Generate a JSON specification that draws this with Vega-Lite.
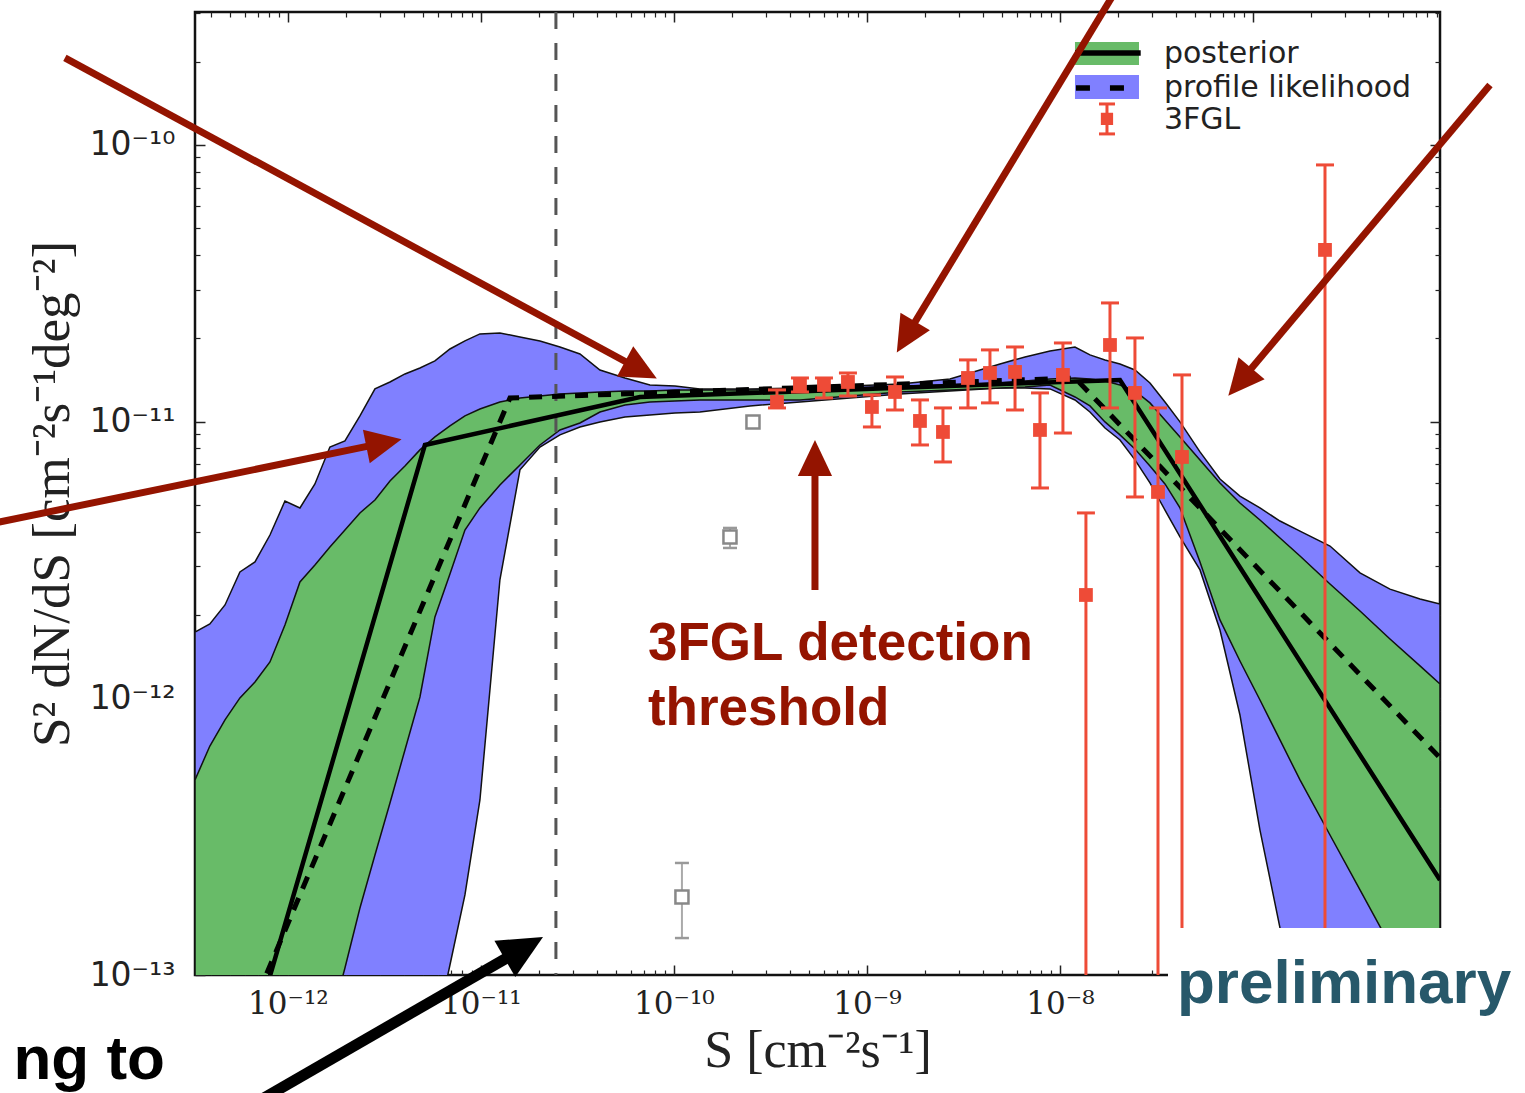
{
"$schema":"https://vega.github.io/schema/vega-lite/v6.json",
"width":1245,"height":963,
"autosize":{"type":"none"},
"padding":{"left":195,"top":12,"right":85,"bottom":118},
"background":"white",
"config":{"view":{"stroke":"#111","strokeWidth":2.5},"axis":{"grid":false,"domain":false}},
"resolve":{"axis":{"x":"independent","y":"independent"}},
"datasets":{
"bands":[
{"S":3.30e-13,"pl_hi":1.736e-12,"pl_lo":1e-15,"post_hi":5.07e-13,"post_lo":1e-15},
{"S":3.94e-13,"pl_hi":1.856e-12,"pl_lo":1e-15,"post_hi":6.72e-13,"post_lo":1e-15},
{"S":4.72e-13,"pl_hi":2.174e-12,"pl_lo":1e-15,"post_hi":8.35e-13,"post_lo":1e-15},
{"S":5.64e-13,"pl_hi":2.86e-12,"pl_lo":1e-15,"post_hi":1.003e-12,"post_lo":1e-15},
{"S":6.75e-13,"pl_hi":3.11e-12,"pl_lo":1e-15,"post_hi":1.145e-12,"post_lo":1e-15},
{"S":8.07e-13,"pl_hi":3.89e-12,"pl_lo":1e-15,"post_hi":1.353e-12,"post_lo":1e-15},
{"S":9.65e-13,"pl_hi":5.16e-12,"pl_lo":1e-15,"post_hi":1.841e-12,"post_lo":1e-15},
{"S":1.154e-12,"pl_hi":4.87e-12,"pl_lo":1e-15,"post_hi":2.632e-12,"post_lo":1e-15},
{"S":1.38e-12,"pl_hi":5.95e-12,"pl_lo":1e-15,"post_hi":3.032e-12,"post_lo":4.0e-14},
{"S":1.65e-12,"pl_hi":8.09e-12,"pl_lo":1e-15,"post_hi":3.522e-12,"post_lo":6.6e-14},
{"S":1.974e-12,"pl_hi":8.51e-12,"pl_lo":1e-15,"post_hi":4.056e-12,"post_lo":1.06e-13},
{"S":2.361e-12,"pl_hi":1.048e-11,"pl_lo":1e-15,"post_hi":4.675e-12,"post_lo":1.747e-13},
{"S":2.824e-12,"pl_hi":1.312e-11,"pl_lo":1e-15,"post_hi":5.208e-12,"post_lo":2.715e-13},
{"S":3.378e-12,"pl_hi":1.39e-11,"pl_lo":1e-15,"post_hi":6.10e-12,"post_lo":4.184e-13},
{"S":4.039e-12,"pl_hi":1.486e-11,"pl_lo":1e-15,"post_hi":6.912e-12,"post_lo":6.505e-13},
{"S":4.83e-12,"pl_hi":1.562e-11,"pl_lo":3.25e-14,"post_hi":7.898e-12,"post_lo":1.011e-12},
{"S":5.776e-12,"pl_hi":1.656e-11,"pl_lo":6.07e-14,"post_hi":8.799e-12,"post_lo":1.967e-12},
{"S":6.909e-12,"pl_hi":1.829e-11,"pl_lo":1.087e-13,"post_hi":9.641e-12,"post_lo":2.814e-12},
{"S":8.262e-12,"pl_hi":1.956e-11,"pl_lo":1.946e-13,"post_hi":1.048e-11,"post_lo":4.056e-12},
{"S":9.88e-12,"pl_hi":2.073e-11,"pl_lo":4.29e-13,"post_hi":1.11e-11,"post_lo":4.874e-12},
{"S":1.254e-11,"pl_hi":2.09e-11,"pl_lo":2.68e-12,"post_hi":1.177e-11,"post_lo":5.90e-12},
{"S":1.593e-11,"pl_hi":2.022e-11,"pl_lo":6.69e-12,"post_hi":1.217e-11,"post_lo":6.97e-12},
{"S":2.022e-11,"pl_hi":1.956e-11,"pl_lo":8.09e-12,"post_hi":1.237e-11,"post_lo":8.231e-12},
{"S":2.567e-11,"pl_hi":1.86e-11,"pl_lo":8.95e-12,"post_hi":1.258e-11,"post_lo":9.324e-12},
{"S":3.258e-11,"pl_hi":1.755e-11,"pl_lo":9.56e-12,"post_hi":1.269e-11,"post_lo":9.884e-12},
{"S":4.136e-11,"pl_hi":1.536e-11,"pl_lo":9.97e-12,"post_hi":1.279e-11,"post_lo":1.083e-11},
{"S":5.573e-11,"pl_hi":1.437e-11,"pl_lo":1.039e-11,"post_hi":1.29e-11,"post_lo":1.148e-11},
{"S":7.508e-11,"pl_hi":1.356e-11,"pl_lo":1.057e-11,"post_hi":1.29e-11,"post_lo":1.177e-11},
{"S":1.012e-10,"pl_hi":1.345e-11,"pl_lo":1.074e-11,"post_hi":1.301e-11,"post_lo":1.187e-11},
{"S":1.363e-10,"pl_hi":1.312e-11,"pl_lo":1.083e-11,"post_hi":1.301e-11,"post_lo":1.197e-11},
{"S":2.476e-10,"pl_hi":1.312e-11,"pl_lo":1.139e-11,"post_hi":1.301e-11,"post_lo":1.197e-11},
{"S":4.496e-10,"pl_hi":1.323e-11,"pl_lo":1.177e-11,"post_hi":1.312e-11,"post_lo":1.197e-11},
{"S":8.165e-10,"pl_hi":1.345e-11,"pl_lo":1.217e-11,"post_hi":1.323e-11,"post_lo":1.237e-11},
{"S":1.483e-9,"pl_hi":1.367e-11,"pl_lo":1.258e-11,"post_hi":1.345e-11,"post_lo":1.279e-11},
{"S":2.693e-9,"pl_hi":1.426e-11,"pl_lo":1.29e-11,"post_hi":1.356e-11,"post_lo":1.301e-11},
{"S":4.89e-9,"pl_hi":1.615e-11,"pl_lo":1.323e-11,"post_hi":1.379e-11,"post_lo":1.323e-11},
{"S":6.59e-9,"pl_hi":1.712e-11,"pl_lo":1.323e-11,"post_hi":1.402e-11,"post_lo":1.334e-11},
{"S":8.88e-9,"pl_hi":1.799e-11,"pl_lo":1.312e-11,"post_hi":1.426e-11,"post_lo":1.356e-11},
{"S":1.196e-8,"pl_hi":1.86e-11,"pl_lo":1.197e-11,"post_hi":1.437e-11,"post_lo":1.227e-11},
{"S":1.43e-8,"pl_hi":1.741e-11,"pl_lo":1.083e-11,"post_hi":1.426e-11,"post_lo":1.139e-11},
{"S":1.711e-8,"pl_hi":1.67e-11,"pl_lo":9.48e-12,"post_hi":1.402e-11,"post_lo":9.97e-12},
{"S":2.046e-8,"pl_hi":1.615e-11,"pl_lo":8.58e-12,"post_hi":1.356e-11,"post_lo":8.95e-12},
{"S":2.446e-8,"pl_hi":1.536e-11,"pl_lo":7.27e-12,"post_hi":1.29e-11,"post_lo":7.962e-12},
{"S":2.926e-8,"pl_hi":1.379e-11,"pl_lo":6.00e-12,"post_hi":1.168e-11,"post_lo":6.912e-12},
{"S":3.50e-8,"pl_hi":1.177e-11,"pl_lo":4.79e-12,"post_hi":1.013e-11,"post_lo":5.95e-12},
{"S":4.186e-8,"pl_hi":9.97e-12,"pl_lo":3.83e-12,"post_hi":8.80e-12,"post_lo":4.874e-12},
{"S":5.314e-8,"pl_hi":7.77e-12,"pl_lo":2.91e-12,"post_hi":7.265e-12,"post_lo":3.109e-12},
{"S":6.745e-8,"pl_hi":6.20e-12,"pl_lo":1.765e-12,"post_hi":6.00e-12,"post_lo":1.919e-12},
{"S":8.56e-8,"pl_hi":5.38e-12,"pl_lo":8.70e-13,"post_hi":5.08e-12,"post_lo":1.364e-12},
{"S":1.087e-7,"pl_hi":4.874e-12,"pl_lo":3.34e-13,"post_hi":4.41e-12,"post_lo":9.86e-13},
{"S":1.38e-7,"pl_hi":4.37e-12,"pl_lo":1.48e-13,"post_hi":3.796e-12,"post_lo":7.07e-13},
{"S":1.752e-7,"pl_hi":4.02e-12,"pl_lo":6.88e-14,"post_hi":3.268e-12,"post_lo":5.07e-13},
{"S":2.506e-7,"pl_hi":3.55e-12,"pl_lo":2.33e-14,"post_hi":2.589e-12,"post_lo":3.206e-13},
{"S":3.585e-7,"pl_hi":2.84e-12,"pl_lo":7.9e-15,"post_hi":2.068e-12,"post_lo":2.029e-13},
{"S":5.126e-7,"pl_hi":2.48e-12,"pl_lo":2.91e-15,"post_hi":1.638e-12,"post_lo":1.284e-13},
{"S":7.334e-7,"pl_hi":2.285e-12,"pl_lo":1.27e-15,"post_hi":1.309e-12,"post_lo":8.12e-14},
{"S":9.31e-7,"pl_hi":2.19e-12,"pl_lo":7.7e-16,"post_hi":1.127e-12,"post_lo":6.07e-14}
],
"posteriorLine":[
{"S":6.06e-13,"value":5e-14},{"S":5.126e-12,"value":8.23e-12},{"S":6.665e-11,"value":1.227e-11},{"S":2.046e-8,"value":1.414e-11},{"S":9.31e-7,"value":2.204e-13}
],
"profileLine":[
{"S":5.066e-13,"value":5e-14},{"S":1.414e-11,"value":1.217e-11},{"S":1.196e-8,"value":1.437e-11},{"S":9.31e-7,"value":6.09e-13}
],
"threshold":[{"S":2.446e-11}],
"fgl":[
{"S":3.418e-10,"value":1.177e-11,"lo":1.12e-11,"hi":1.301e-11},
{"S":4.496e-10,"value":1.356e-11,"lo":1.279e-11,"hi":1.437e-11},
{"S":5.987e-10,"value":1.356e-11,"lo":1.217e-11,"hi":1.437e-11},
{"S":7.97e-10,"value":1.39e-11,"lo":1.237e-11,"hi":1.498e-11},
{"S":1.061e-9,"value":1.129e-11,"lo":9.56e-12,"hi":1.248e-11},
{"S":1.397e-9,"value":1.279e-11,"lo":1.101e-11,"hi":1.449e-11},
{"S":1.882e-9,"value":1.005e-11,"lo":8.23e-12,"hi":1.197e-11},
{"S":2.476e-9,"value":9.17e-12,"lo":7.145e-12,"hi":1.12e-11},
{"S":3.337e-9,"value":1.437e-11,"lo":1.12e-11,"hi":1.67e-11},
{"S":4.338e-9,"value":1.498e-11,"lo":1.168e-11,"hi":1.815e-11},
{"S":5.85e-9,"value":1.511e-11,"lo":1.101e-11,"hi":1.86e-11},
{"S":7.877e-9,"value":9.324e-12,"lo":5.754e-12,"hi":1.269e-11},
{"S":1.036e-8,"value":1.474e-11,"lo":9.09e-12,"hi":1.923e-11},
{"S":1.363e-8,"value":2.362e-12,"lo":1e-15,"hi":4.675e-12},
{"S":1.816e-8,"value":1.891e-11,"lo":1.12e-11,"hi":2.683e-11},
{"S":2.446e-8,"value":1.269e-11,"lo":5.339e-12,"hi":2.005e-11},
{"S":3.22e-8,"value":5.567e-12,"lo":1e-15,"hi":1.12e-11},
{"S":4.287e-8,"value":7.448e-12,"lo":1e-15,"hi":1.474e-11},
{"S":2.361e-7,"value":4.171e-11,"lo":1e-15,"hi":8.46e-11}
],
"grey":[
{"S":2.567e-10,"value":9.97e-12,"lo":null,"hi":null},
{"S":1.951e-10,"value":3.827e-12,"lo":3.493e-12,"hi":4.126e-12},
{"S":1.1e-10,"value":1.914e-13,"lo":1.36e-13,"hi":2.54e-13}
],
"legendPatches":[
{"x":1.196e-8,"x2":2.567e-8,"y":1.944e-10,"y2":2.354e-10,"series":"posterior"},
{"x":1.196e-8,"x2":2.567e-8,"y":1.465e-10,"y2":1.789e-10,"series":"profile likelihood"}
],
"legendLines":[
{"x":1.196e-8,"x2":2.62e-8,"y":2.149e-10,"series":"posterior"},
{"x":1.21e-8,"x2":2.172e-8,"y":1.605e-10,"series":"profile likelihood"}
],
"legendFgl":[{"x":1.752e-8,"y":1.241e-10,"lo":1.095e-10,"hi":1.405e-10}],
"legendText":[
{"x":3.458e-8,"y":1.977e-10,"label":"posterior"},
{"x":3.458e-8,"y":1.49e-10,"label":"profile likelihood"},
{"x":3.458e-8,"y":1.141e-10,"label":"3FGL"}
],
"cover":[{"x":3.628e-8,"x2":2.72e-6,"y":1.48e-13,"y2":3.533e-14}],
"prelim":[{"x":4.037e-8,"y":7.92e-14,"label":"preliminary"}],
"callout":[
{"x":7.334e-11,"y":1.375e-12,"label":"3FGL detection"},
{"x":7.334e-11,"y":8.009e-13,"label":"threshold"}
],
"cutText":[{"x":2.305e-13,"y":4.21e-14,"label":"ng to"}],
"redArrows":[
{"x":6.99e-14,"y":2.061e-10,"x2":6.745e-11,"y2":1.536e-11,"angle":118.4},
{"x":1.928e-8,"y":3.568e-10,"x2":1.593e-9,"y2":2.022e-11,"angle":210.7},
{"x":1.69e-6,"y":1.646e-10,"x2":8.56e-8,"y2":1.39e-11,"angle":220.2},
{"x":3.033e-14,"y":4.3e-12,"x2":3.144e-12,"y2":8.37e-12,"angle":78.5},
{"x":5.378e-10,"y":2.462e-12,"x2":5.378e-10,"y2":7.386e-12,"angle":0}
],
"blackArrow":[
{"x":6.909e-13,"y":3.475e-14,"x2":1.67e-11,"y2":1.252e-13,"angle":60.1}
]
},
"layer":[
{"data":{"name":"bands"},
 "mark":{"type":"area","fill":"#8080ff","stroke":"#111","strokeWidth":1.5,"clip":true},
 "encoding":{
  "x":{"field":"S","type":"quantitative","scale":{"type":"log","domain":[3.3e-13,9.31e-7],"nice":false},
   "axis":{"orient":"bottom","values":[1e-12,1e-11,1e-10,1e-9,1e-8,1e-7],
    "labelExpr":"datum.value < 3e-12 ? '10⁻¹²' : datum.value < 3e-11 ? '10⁻¹¹' : datum.value < 3e-10 ? '10⁻¹⁰' : datum.value < 3e-9 ? '10⁻⁹' : datum.value < 3e-8 ? '10⁻⁸' : ''",
    "tickSize":-10,"tickWidth":1.5,"tickColor":"#222","labelFont":"DejaVu Serif","labelFontSize":31,"labelColor":"#222","labelPadding":24,
    "labelOverlap":false,"labelFlush":false,"labelBound":false,
    "title":"S [cm⁻²s⁻¹]","titleFont":"Liberation Serif","titleFontSize":52,"titleFontWeight":"normal","titleColor":"#222","titlePadding":6}},
  "y":{"field":"pl_hi","type":"quantitative","scale":{"type":"log","domain":[1e-13,3.02e-10],"nice":false},
   "axis":{"orient":"left","values":[1e-13,1e-12,1e-11,1e-10],
    "labelExpr":"datum.value < 3e-13 ? '10⁻¹³' : datum.value < 3e-12 ? '10⁻¹²' : datum.value < 3e-11 ? '10⁻¹¹' : '10⁻¹⁰'",
    "tickSize":-10,"tickWidth":1.5,"tickColor":"#222","labelFont":"DejaVu Sans","labelFontSize":33,"labelColor":"#222","labelPadding":30,
    "labelOverlap":false,"labelFlush":false,"labelBound":false,
    "title":"S² dN/dS [cm⁻²s⁻¹deg⁻²]","titleFont":"Liberation Serif","titleFontSize":53,"titleFontWeight":"normal","titleColor":"#222","titlePadding":10}},
  "y2":{"field":"pl_lo"}}},
{"data":{"name":"bands"},
 "mark":{"type":"area","fill":"#68bb68","stroke":"#111","strokeWidth":1.5,"clip":true},
 "encoding":{
  "x":{"field":"S","type":"quantitative","axis":{"orient":"top","values":[1e-12,1e-11,1e-10,1e-9,1e-8,1e-7],"labels":false,"tickSize":-10,"tickWidth":1.5,"tickColor":"#222","title":null}},
  "y":{"field":"post_hi","type":"quantitative","axis":{"orient":"right","values":[1e-13,1e-12,1e-11,1e-10],"labels":false,"tickSize":-10,"tickWidth":1.5,"tickColor":"#222","title":null}},
  "y2":{"field":"post_lo"}}},
{"data":{"name":"threshold"},
 "mark":{"type":"rule","color":"#555","strokeWidth":3,"strokeDash":[17,14]},
 "encoding":{"x":{"field":"S","type":"quantitative","axis":null}}},
{"data":{"name":"posteriorLine"},
 "mark":{"type":"line","color":"#000","strokeWidth":4.5,"clip":true},
 "encoding":{
  "x":{"field":"S","type":"quantitative","axis":{"orient":"bottom","values":[4e-13,5e-13,6e-13,7e-13,8e-13,9e-13,2e-12,3e-12,4e-12,5e-12,6e-12,7e-12,8e-12,9e-12,2e-11,3e-11,4e-11,5e-11,6e-11,7e-11,8e-11,9e-11,2e-10,3e-10,4e-10,5e-10,6e-10,7e-10,8e-10,9e-10,2e-9,3e-9,4e-9,5e-9,6e-9,7e-9,8e-9,9e-9,2e-8,3e-8,4e-8,5e-8,6e-8,7e-8,8e-8,9e-8,2e-7,3e-7,4e-7,5e-7,6e-7,7e-7,8e-7,9e-7],"labels":false,"tickSize":-5,"tickWidth":1.2,"tickColor":"#222","title":null}},
  "y":{"field":"value","type":"quantitative","axis":{"orient":"left","values":[2e-13,3e-13,4e-13,5e-13,6e-13,7e-13,8e-13,9e-13,2e-12,3e-12,4e-12,5e-12,6e-12,7e-12,8e-12,9e-12,2e-11,3e-11,4e-11,5e-11,6e-11,7e-11,8e-11,9e-11,2e-10,3e-10],"labels":false,"tickSize":-5,"tickWidth":1.2,"tickColor":"#222","title":null}}}},
{"data":{"name":"profileLine"},
 "mark":{"type":"line","color":"#000","strokeWidth":5,"strokeDash":[13,10],"clip":true},
 "encoding":{
  "x":{"field":"S","type":"quantitative","axis":{"orient":"top","values":[4e-13,5e-13,6e-13,7e-13,8e-13,9e-13,2e-12,3e-12,4e-12,5e-12,6e-12,7e-12,8e-12,9e-12,2e-11,3e-11,4e-11,5e-11,6e-11,7e-11,8e-11,9e-11,2e-10,3e-10,4e-10,5e-10,6e-10,7e-10,8e-10,9e-10,2e-9,3e-9,4e-9,5e-9,6e-9,7e-9,8e-9,9e-9,2e-8,3e-8,4e-8,5e-8,6e-8,7e-8,8e-8,9e-8,2e-7,3e-7,4e-7,5e-7,6e-7,7e-7,8e-7,9e-7],"labels":false,"tickSize":-5,"tickWidth":1.2,"tickColor":"#222","title":null}},
  "y":{"field":"value","type":"quantitative","axis":{"orient":"right","values":[2e-13,3e-13,4e-13,5e-13,6e-13,7e-13,8e-13,9e-13,2e-12,3e-12,4e-12,5e-12,6e-12,7e-12,8e-12,9e-12,2e-11,3e-11,4e-11,5e-11,6e-11,7e-11,8e-11,9e-11,2e-10,3e-10],"labels":false,"tickSize":-5,"tickWidth":1.2,"tickColor":"#222","title":null}}}},
{"data":{"name":"fgl"},
 "mark":{"type":"rule","color":"#ee4b37","strokeWidth":3,"clip":true},
 "encoding":{"x":{"field":"S","type":"quantitative","axis":null},"y":{"field":"lo","type":"quantitative","axis":null},"y2":{"field":"hi"}}},
{"data":{"name":"fgl"},
 "mark":{"type":"tick","orient":"horizontal","color":"#ee4b37","size":18,"thickness":3,"opacity":1,"clip":true},
 "encoding":{"x":{"field":"S","type":"quantitative","axis":null},"y":{"field":"hi","type":"quantitative","axis":null}}},
{"data":{"name":"fgl"},
 "mark":{"type":"tick","orient":"horizontal","color":"#ee4b37","size":18,"thickness":3,"opacity":1,"clip":true},
 "encoding":{"x":{"field":"S","type":"quantitative","axis":null},"y":{"field":"lo","type":"quantitative","axis":null}}},
{"data":{"name":"fgl"},
 "mark":{"type":"point","shape":"square","filled":true,"size":190,"color":"#ee4b37","opacity":1,"clip":true},
 "encoding":{"x":{"field":"S","type":"quantitative","axis":null},"y":{"field":"value","type":"quantitative","axis":null}}},
{"data":{"name":"grey"},
 "mark":{"type":"rule","color":"#aaa","strokeWidth":2},
 "encoding":{"x":{"field":"S","type":"quantitative","axis":null},"y":{"field":"lo","type":"quantitative","axis":null},"y2":{"field":"hi"}}},
{"data":{"name":"grey"},
 "mark":{"type":"tick","orient":"horizontal","color":"#999","size":14,"thickness":2.5,"opacity":1},
 "encoding":{"x":{"field":"S","type":"quantitative","axis":null},"y":{"field":"hi","type":"quantitative","axis":null}}},
{"data":{"name":"grey"},
 "mark":{"type":"tick","orient":"horizontal","color":"#999","size":14,"thickness":2.5,"opacity":1},
 "encoding":{"x":{"field":"S","type":"quantitative","axis":null},"y":{"field":"lo","type":"quantitative","axis":null}}},
{"data":{"name":"grey"},
 "mark":{"type":"point","shape":"square","filled":false,"size":170,"stroke":"#888","fill":"white","strokeWidth":2.5,"opacity":1},
 "encoding":{"x":{"field":"S","type":"quantitative","axis":null},"y":{"field":"value","type":"quantitative","axis":null}}},
{"data":{"name":"legendPatches"},
 "mark":{"type":"rect","opacity":1},
 "encoding":{"x":{"field":"x","type":"quantitative","axis":null},"x2":{"field":"x2"},"y":{"field":"y","type":"quantitative","axis":null},"y2":{"field":"y2"},
  "fill":{"field":"series","type":"nominal","scale":{"domain":["posterior","profile likelihood"],"range":["#68bb68","#8080ff"]},"legend":null}}},
{"data":{"name":"legendLines"},
 "mark":{"type":"rule","color":"#000","strokeWidth":5.5},
 "encoding":{"x":{"field":"x","type":"quantitative","axis":null},"x2":{"field":"x2"},"y":{"field":"y","type":"quantitative","axis":null},
  "strokeDash":{"field":"series","type":"nominal","scale":{"domain":["posterior","profile likelihood"],"range":[[1,0],[14,20]]},"legend":null}}},
{"data":{"name":"legendFgl"},
 "mark":{"type":"rule","color":"#ee4b37","strokeWidth":3},
 "encoding":{"x":{"field":"x","type":"quantitative","axis":null},"y":{"field":"lo","type":"quantitative","axis":null},"y2":{"field":"hi"}}},
{"data":{"name":"legendFgl"},
 "mark":{"type":"tick","orient":"horizontal","color":"#ee4b37","size":16,"thickness":3,"opacity":1},
 "encoding":{"x":{"field":"x","type":"quantitative","axis":null},"y":{"field":"hi","type":"quantitative","axis":null}}},
{"data":{"name":"legendFgl"},
 "mark":{"type":"tick","orient":"horizontal","color":"#ee4b37","size":16,"thickness":3,"opacity":1},
 "encoding":{"x":{"field":"x","type":"quantitative","axis":null},"y":{"field":"lo","type":"quantitative","axis":null}}},
{"data":{"name":"legendFgl"},
 "mark":{"type":"point","shape":"square","filled":true,"size":150,"color":"#ee4b37","opacity":1},
 "encoding":{"x":{"field":"x","type":"quantitative","axis":null},"y":{"field":"y","type":"quantitative","axis":null}}},
{"data":{"name":"legendText"},
 "mark":{"type":"text","align":"left","baseline":"alphabetic","font":"DejaVu Sans","fontSize":30,"color":"#222"},
 "encoding":{"x":{"field":"x","type":"quantitative","axis":null},"y":{"field":"y","type":"quantitative","axis":null},"text":{"field":"label"}}},
{"data":{"name":"cover"},
 "mark":{"type":"rect","fill":"white","opacity":1,"clip":false},
 "encoding":{"x":{"field":"x","type":"quantitative","axis":null},"x2":{"field":"x2"},"y":{"field":"y","type":"quantitative","axis":null},"y2":{"field":"y2"}}},
{"data":{"name":"prelim"},
 "mark":{"type":"text","align":"left","baseline":"alphabetic","font":"Liberation Sans","fontWeight":"bold","fontSize":62,"color":"#27586a","clip":false},
 "encoding":{"x":{"field":"x","type":"quantitative","axis":null},"y":{"field":"y","type":"quantitative","axis":null},"text":{"field":"label"}}},
{"data":{"name":"callout"},
 "mark":{"type":"text","align":"left","baseline":"alphabetic","font":"Liberation Sans","fontWeight":"bold","fontSize":53,"color":"#941400"},
 "encoding":{"x":{"field":"x","type":"quantitative","axis":null},"y":{"field":"y","type":"quantitative","axis":null},"text":{"field":"label"}}},
{"data":{"name":"cutText"},
 "mark":{"type":"text","align":"right","baseline":"alphabetic","font":"Liberation Sans","fontWeight":"bold","fontSize":62,"color":"#000","clip":false},
 "encoding":{"x":{"field":"x","type":"quantitative","axis":null},"y":{"field":"y","type":"quantitative","axis":null},"text":{"field":"label"}}},
{"data":{"name":"redArrows"},
 "mark":{"type":"rule","color":"#941400","strokeWidth":7,"strokeCap":"butt","clip":false},
 "encoding":{"x":{"field":"x","type":"quantitative","axis":null},"y":{"field":"y","type":"quantitative","axis":null},"x2":{"field":"x2"},"y2":{"field":"y2"}}},
{"data":{"name":"redArrows"},
 "mark":{"type":"point","shape":"M0,-1L0.95,1L-0.95,1Z","filled":true,"size":1296,"color":"#941400","opacity":1,"clip":false},
 "encoding":{"x":{"field":"x2","type":"quantitative","axis":null},"y":{"field":"y2","type":"quantitative","axis":null},"angle":{"field":"angle","type":"quantitative","scale":null}}},
{"data":{"name":"blackArrow"},
 "mark":{"type":"rule","color":"#000","strokeWidth":11,"strokeCap":"butt","clip":false},
 "encoding":{"x":{"field":"x","type":"quantitative","axis":null},"y":{"field":"y","type":"quantitative","axis":null},"x2":{"field":"x2"},"y2":{"field":"y2"}}},
{"data":{"name":"blackArrow"},
 "mark":{"type":"point","shape":"M0,-1L0.95,1L-0.95,1Z","filled":true,"size":1936,"color":"#000","opacity":1,"clip":false},
 "encoding":{"x":{"field":"x2","type":"quantitative","axis":null},"y":{"field":"y2","type":"quantitative","axis":null},"angle":{"field":"angle","type":"quantitative","scale":null}}}
]
}
